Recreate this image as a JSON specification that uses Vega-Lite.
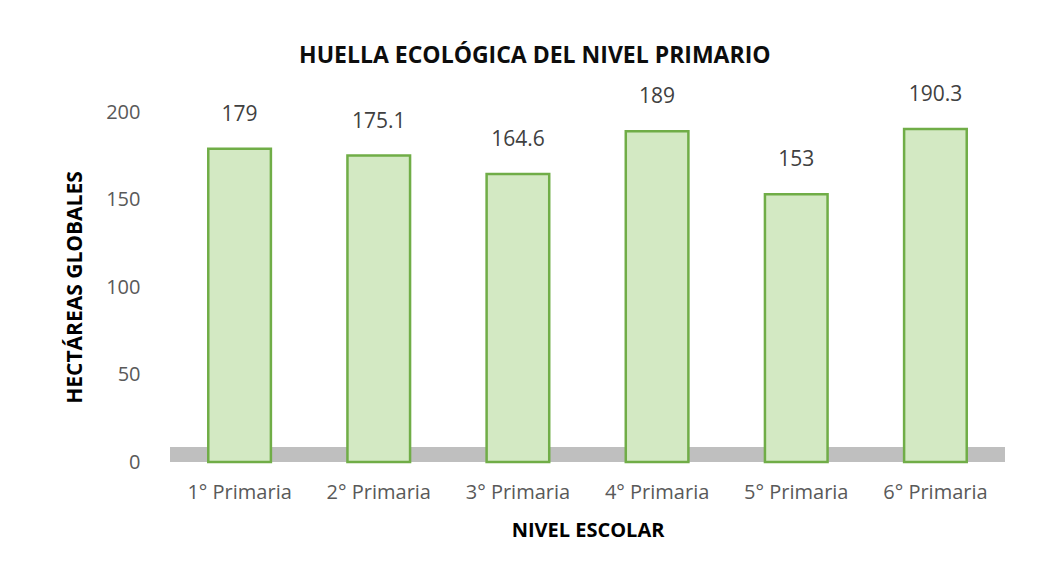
{
  "$schema": "https://vega.github.io/schema/vega-lite/v6.json",
  "autosize": "none",
  "width": 835,
  "height": 350,
  "padding": {"left": 170, "top": 112, "right": 57, "bottom": 116},
  "background": "white",
  "config": {"view": {"stroke": null}},
  "title": {
    "text": "HUELLA ECOLÓGICA DEL NIVEL PRIMARIO",
    "font": "Open Sans",
    "fontSize": 23,
    "fontWeight": "bold",
    "color": "#0d0d0d",
    "anchor": "middle",
    "frame": "bounds",
    "offset": 16
  },
  "data": {
    "values": [
      {"nivel": "1° Primaria", "valor": 179},
      {"nivel": "2° Primaria", "valor": 175.1},
      {"nivel": "3° Primaria", "valor": 164.6},
      {"nivel": "4° Primaria", "valor": 189},
      {"nivel": "5° Primaria", "valor": 153},
      {"nivel": "6° Primaria", "valor": 190.3}
    ]
  },
  "encoding": {
    "x": {
      "field": "nivel",
      "type": "nominal",
      "sort": null,
      "scale": {"paddingInner": 0, "paddingOuter": 0},
      "axis": {
        "title": "NIVEL ESCOLAR",
        "titleFont": "Open Sans",
        "titleFontSize": 20,
        "titleFontWeight": "bold",
        "titleColor": "#000000",
        "titlePadding": 18,
        "labelFont": "Open Sans",
        "labelFontSize": 20,
        "labelColor": "#595959",
        "labelAngle": 0,
        "labelPadding": 20,
        "domain": false,
        "ticks": false
      }
    }
  },
  "layer": [
    {
      "mark": {"type": "rect", "color": "#bfbfbf"},
      "encoding": {
        "x": null,
        "y": {"datum": 0, "type": "quantitative"},
        "y2": {"datum": 8.5}
      }
    },
    {
      "mark": {"type": "bar", "width": {"band": 0.45}, "fill": "#d3e9c3", "stroke": "#70ad47", "strokeWidth": 2.5},
      "encoding": {
        "y": {
          "field": "valor",
          "type": "quantitative",
          "scale": {"domain": [0, 200]},
          "axis": {
            "title": "HECTÁREAS GLOBALES",
            "titleFont": "Open Sans",
            "titleFontSize": 21,
            "titleFontWeight": "bold",
            "titleColor": "#000000",
            "titlePadding": 20,
            "labelFont": "Open Sans",
            "labelFontSize": 20,
            "labelColor": "#595959",
            "labelPadding": 30,
            "values": [0, 50, 100, 150, 200],
            "domain": false,
            "ticks": false,
            "gridColor": "#d9d9d9",
            "gridWidth": 1.5
          }
        }
      }
    },
    {
      "mark": {"type": "text", "dy": -24, "font": "Open Sans", "fontSize": 21, "color": "#404040", "baseline": "bottom"},
      "encoding": {
        "y": {"field": "valor", "type": "quantitative"},
        "text": {"field": "valor", "type": "quantitative"}
      }
    }
  ]
}
